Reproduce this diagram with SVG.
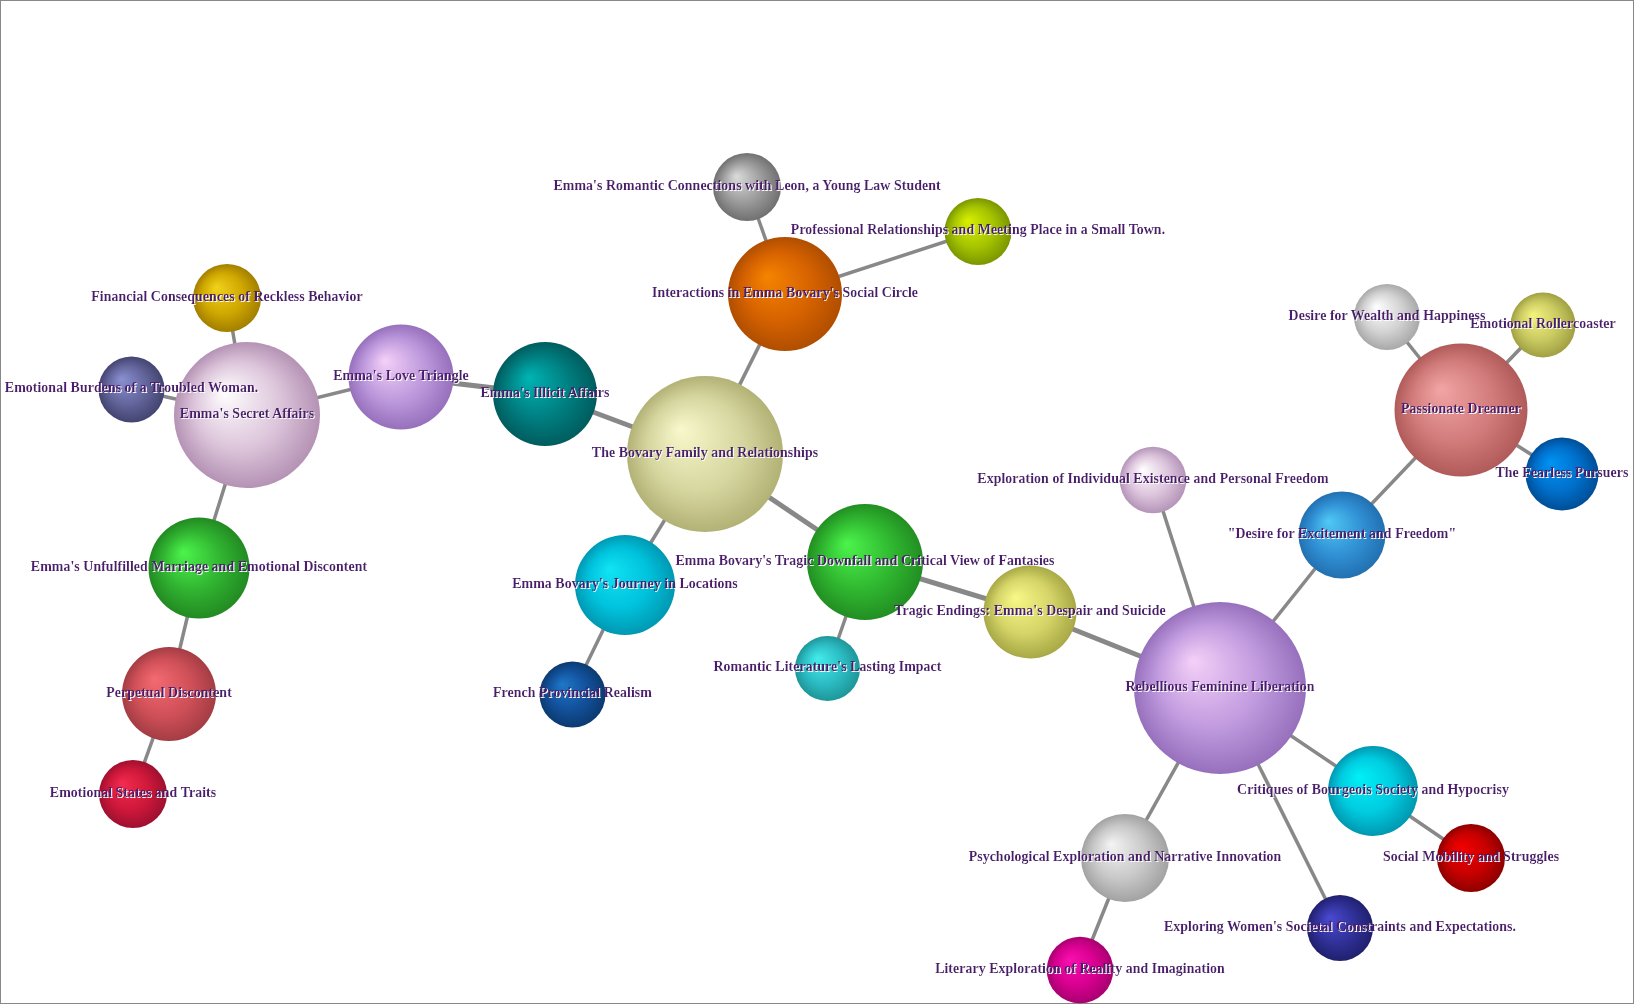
<svg xmlns="http://www.w3.org/2000/svg" width="1634" height="1004" viewBox="0 0 1634 1004">
<style>
.lbl{font-family:"Liberation Serif","Times New Roman",serif;font-size:14px;font-weight:bold;fill:#4b1a6d;text-anchor:middle;filter:url(#halo)}
.edge{stroke:#888;stroke-width:3.5;stroke-linecap:butt}
.thick{stroke-width:5}
</style>
<defs>
<filter id="halo" x="-5%" y="-30%" width="110%" height="160%">
<feFlood flood-color="#fff" result="w"/>
<feComposite in="w" in2="SourceAlpha" operator="in" result="wa"/>
<feOffset in="wa" dx="1" dy="1" result="off"/>
<feMerge><feMergeNode in="off"/><feMergeNode in="SourceGraphic"/></feMerge>
</filter>
<radialGradient id="g1" fx="34%" fy="34%"><stop offset="0" stop-color="#dcdcdc"/><stop offset="0.6" stop-color="#9a9a9a"/><stop offset="1" stop-color="#707070"/></radialGradient>
<radialGradient id="g2" fx="34%" fy="34%"><stop offset="0" stop-color="#d8f000"/><stop offset="0.6" stop-color="#a6c400"/><stop offset="1" stop-color="#7a9600"/></radialGradient>
<radialGradient id="g3" fx="34%" fy="34%"><stop offset="0" stop-color="#f58400"/><stop offset="0.6" stop-color="#d66200"/><stop offset="1" stop-color="#b04e00"/></radialGradient>
<radialGradient id="g4" fx="34%" fy="34%"><stop offset="0" stop-color="#f8f8cc"/><stop offset="0.6" stop-color="#d6d6a0"/><stop offset="1" stop-color="#b2b276"/></radialGradient>
<radialGradient id="g5" fx="34%" fy="34%"><stop offset="0" stop-color="#00b4b4"/><stop offset="0.6" stop-color="#007e80"/><stop offset="1" stop-color="#005c5e"/></radialGradient>
<radialGradient id="g6" fx="34%" fy="34%"><stop offset="0" stop-color="#f4d0f8"/><stop offset="0.6" stop-color="#bc98dc"/><stop offset="1" stop-color="#9670bc"/></radialGradient>
<radialGradient id="g7" fx="34%" fy="34%"><stop offset="0" stop-color="#ffffff"/><stop offset="0.6" stop-color="#dcc4da"/><stop offset="1" stop-color="#b492b4"/></radialGradient>
<radialGradient id="g8" fx="34%" fy="34%"><stop offset="0" stop-color="#f2d21c"/><stop offset="0.6" stop-color="#cfa800"/><stop offset="1" stop-color="#a27e00"/></radialGradient>
<radialGradient id="g9" fx="34%" fy="34%"><stop offset="0" stop-color="#8a90d2"/><stop offset="0.6" stop-color="#62649a"/><stop offset="1" stop-color="#434470"/></radialGradient>
<radialGradient id="g10" fx="34%" fy="34%"><stop offset="0" stop-color="#4cf44c"/><stop offset="0.6" stop-color="#30b230"/><stop offset="1" stop-color="#228a22"/></radialGradient>
<radialGradient id="g11" fx="34%" fy="34%"><stop offset="0" stop-color="#f46a72"/><stop offset="0.6" stop-color="#d05058"/><stop offset="1" stop-color="#a43c44"/></radialGradient>
<radialGradient id="g12" fx="34%" fy="34%"><stop offset="0" stop-color="#f22c50"/><stop offset="0.6" stop-color="#cf183a"/><stop offset="1" stop-color="#9e1030"/></radialGradient>
<radialGradient id="g13" fx="34%" fy="34%"><stop offset="0" stop-color="#10e4f4"/><stop offset="0.6" stop-color="#00c2dc"/><stop offset="1" stop-color="#0098b2"/></radialGradient>
<radialGradient id="g14" fx="34%" fy="34%"><stop offset="0" stop-color="#1e78c8"/><stop offset="0.6" stop-color="#12509a"/><stop offset="1" stop-color="#0c3a70"/></radialGradient>
<radialGradient id="g15" fx="34%" fy="34%"><stop offset="0" stop-color="#4cf44c"/><stop offset="0.6" stop-color="#30b830"/><stop offset="1" stop-color="#228e22"/></radialGradient>
<radialGradient id="g16" fx="34%" fy="34%"><stop offset="0" stop-color="#44ecec"/><stop offset="0.6" stop-color="#2cbcc4"/><stop offset="1" stop-color="#1e9698"/></radialGradient>
<radialGradient id="g17" fx="34%" fy="34%"><stop offset="0" stop-color="#f8f888"/><stop offset="0.6" stop-color="#d4d468"/><stop offset="1" stop-color="#a8a846"/></radialGradient>
<radialGradient id="g18" fx="34%" fy="34%"><stop offset="0" stop-color="#f4d0f8"/><stop offset="0.6" stop-color="#c09ade"/><stop offset="1" stop-color="#9670bc"/></radialGradient>
<radialGradient id="g19" fx="34%" fy="34%"><stop offset="0" stop-color="#ffffff"/><stop offset="0.6" stop-color="#dcc4dc"/><stop offset="1" stop-color="#b494b8"/></radialGradient>
<radialGradient id="g20" fx="34%" fy="34%"><stop offset="0" stop-color="#50c8f4"/><stop offset="0.6" stop-color="#3090d4"/><stop offset="1" stop-color="#2270b0"/></radialGradient>
<radialGradient id="g21" fx="34%" fy="34%"><stop offset="0" stop-color="#f2a4a4"/><stop offset="0.6" stop-color="#d27c7c"/><stop offset="1" stop-color="#b05a5a"/></radialGradient>
<radialGradient id="g22" fx="34%" fy="34%"><stop offset="0" stop-color="#ffffff"/><stop offset="0.6" stop-color="#d2d2d2"/><stop offset="1" stop-color="#a8a8a8"/></radialGradient>
<radialGradient id="g23" fx="34%" fy="34%"><stop offset="0" stop-color="#f4f47e"/><stop offset="0.6" stop-color="#caca62"/><stop offset="1" stop-color="#a0a042"/></radialGradient>
<radialGradient id="g24" fx="34%" fy="34%"><stop offset="0" stop-color="#0094f4"/><stop offset="0.6" stop-color="#0070cc"/><stop offset="1" stop-color="#004e96"/></radialGradient>
<radialGradient id="g25" fx="34%" fy="34%"><stop offset="0" stop-color="#00f0f8"/><stop offset="0.6" stop-color="#00cce0"/><stop offset="1" stop-color="#0098b0"/></radialGradient>
<radialGradient id="g26" fx="34%" fy="34%"><stop offset="0" stop-color="#f40000"/><stop offset="0.6" stop-color="#c80000"/><stop offset="1" stop-color="#8e0000"/></radialGradient>
<radialGradient id="g27" fx="34%" fy="34%"><stop offset="0" stop-color="#4a4ad2"/><stop offset="0.6" stop-color="#303098"/><stop offset="1" stop-color="#20206e"/></radialGradient>
<radialGradient id="g28" fx="34%" fy="34%"><stop offset="0" stop-color="#f4f4f4"/><stop offset="0.6" stop-color="#c8c8c8"/><stop offset="1" stop-color="#a2a2a2"/></radialGradient>
<radialGradient id="g29" fx="34%" fy="34%"><stop offset="0" stop-color="#fa10b0"/><stop offset="0.6" stop-color="#d80090"/><stop offset="1" stop-color="#a80070"/></radialGradient>
</defs>
<rect x="0.5" y="0.5" width="1633" height="1003" fill="#fff" stroke="#888" stroke-width="1"/>
<g id="connectors">
<line class="edge" x1="747" y1="187" x2="785" y2="294"/>
<line class="edge" x1="978" y1="231" x2="785" y2="294"/>
<line class="edge" x1="785" y1="294" x2="705" y2="454"/>
<line class="edge thick" x1="705" y1="454" x2="545" y2="394"/>
<line class="edge thick" x1="545" y1="394" x2="401" y2="377"/>
<line class="edge" x1="401" y1="377" x2="247" y2="415"/>
<line class="edge" x1="247" y1="415" x2="227" y2="298"/>
<line class="edge" x1="247" y1="415" x2="131" y2="389"/>
<line class="edge" x1="247" y1="415" x2="199" y2="568"/>
<line class="edge" x1="199" y1="568" x2="169" y2="694"/>
<line class="edge" x1="169" y1="694" x2="133" y2="794"/>
<line class="edge" x1="705" y1="454" x2="625" y2="585"/>
<line class="edge" x1="625" y1="585" x2="572" y2="694"/>
<line class="edge thick" x1="705" y1="454" x2="865" y2="562"/>
<line class="edge" x1="865" y1="562" x2="828" y2="668"/>
<line class="edge thick" x1="865" y1="562" x2="1030" y2="612"/>
<line class="edge thick" x1="1030" y1="612" x2="1220" y2="688"/>
<line class="edge" x1="1220" y1="688" x2="1153" y2="480"/>
<line class="edge" x1="1220" y1="688" x2="1342" y2="535"/>
<line class="edge" x1="1342" y1="535" x2="1461" y2="410"/>
<line class="edge" x1="1461" y1="410" x2="1387" y2="317"/>
<line class="edge" x1="1461" y1="410" x2="1543" y2="325"/>
<line class="edge" x1="1461" y1="410" x2="1562" y2="474"/>
<line class="edge" x1="1220" y1="688" x2="1373" y2="791"/>
<line class="edge" x1="1373" y1="791" x2="1471" y2="858"/>
<line class="edge" x1="1220" y1="688" x2="1340" y2="928"/>
<line class="edge" x1="1220" y1="688" x2="1125" y2="858"/>
<line class="edge" x1="1125" y1="858" x2="1080" y2="970"/>
</g>
<g id="n-bovary-family"><circle cx="705" cy="454" r="78" fill="url(#g4)"/><text class="lbl" x="705" y="457">The Bovary Family and Relationships</text></g>
<g id="n-rebellious"><circle cx="1220" cy="688" r="86" fill="url(#g18)"/><text class="lbl" x="1220" y="691">Rebellious Feminine Liberation</text></g>
<g id="n-secret-affairs"><circle cx="247" cy="415" r="73" fill="url(#g7)"/><text class="lbl" x="247" y="418">Emma's Secret Affairs</text></g>
<g id="n-passionate"><circle cx="1461" cy="410" r="66.5" fill="url(#g21)"/><text class="lbl" x="1461" y="413">Passionate Dreamer</text></g>
<g id="n-tragic-downfall"><circle cx="865" cy="562" r="58" fill="url(#g15)"/><text class="lbl" x="865" y="565">Emma Bovary's Tragic Downfall and Critical View of Fantasies</text></g>
<g id="n-interactions"><circle cx="785" cy="294" r="57" fill="url(#g3)"/><text class="lbl" x="785" y="297">Interactions in Emma Bovary's Social Circle</text></g>
<g id="n-love-triangle"><circle cx="401" cy="377" r="52.5" fill="url(#g6)"/><text class="lbl" x="401" y="380">Emma's Love Triangle</text></g>
<g id="n-illicit"><circle cx="545" cy="394" r="52" fill="url(#g5)"/><text class="lbl" x="545" y="397">Emma's Illicit Affairs</text></g>
<g id="n-unfulfilled"><circle cx="199" cy="568" r="50.5" fill="url(#g10)"/><text class="lbl" x="199" y="571">Emma's Unfulfilled Marriage and Emotional Discontent</text></g>
<g id="n-journey"><circle cx="625" cy="585" r="50" fill="url(#g13)"/><text class="lbl" x="625" y="588">Emma Bovary's Journey in Locations</text></g>
<g id="n-perpetual"><circle cx="169" cy="694" r="47" fill="url(#g11)"/><text class="lbl" x="169" y="697">Perpetual Discontent</text></g>
<g id="n-tragic-endings"><circle cx="1030" cy="612" r="46.5" fill="url(#g17)"/><text class="lbl" x="1030" y="615">Tragic Endings: Emma's Despair and Suicide</text></g>
<g id="n-critiques"><circle cx="1373" cy="791" r="45" fill="url(#g25)"/><text class="lbl" x="1373" y="794">Critiques of Bourgeois Society and Hypocrisy</text></g>
<g id="n-psychological"><circle cx="1125" cy="858" r="44" fill="url(#g28)"/><text class="lbl" x="1125" y="861">Psychological Exploration and Narrative Innovation</text></g>
<g id="n-desire-excitement"><circle cx="1342" cy="535" r="43.5" fill="url(#g20)"/><text class="lbl" x="1342" y="538">"Desire for Excitement and Freedom"</text></g>
<g id="n-fearless"><circle cx="1562" cy="474" r="36.5" fill="url(#g24)"/><text class="lbl" x="1562" y="477">The Fearless Pursuers</text></g>
<g id="n-romantic-connections"><circle cx="747" cy="187" r="34" fill="url(#g1)"/><text class="lbl" x="747" y="190">Emma's Romantic Connections with Leon, a Young Law Student</text></g>
<g id="n-financial"><circle cx="227" cy="298" r="34" fill="url(#g8)"/><text class="lbl" x="227" y="301">Financial Consequences of Reckless Behavior</text></g>
<g id="n-emotional-burdens"><circle cx="131.5" cy="389.5" r="33" fill="url(#g9)"/><text class="lbl" x="131.5" y="392">Emotional Burdens of a Troubled Woman.</text></g>
<g id="n-emotional-states"><circle cx="133" cy="794" r="34" fill="url(#g12)"/><text class="lbl" x="133" y="797">Emotional States and Traits</text></g>
<g id="n-social-mobility"><circle cx="1471" cy="858" r="34" fill="url(#g26)"/><text class="lbl" x="1471" y="861">Social Mobility and Struggles</text></g>
<g id="n-professional"><circle cx="978" cy="231.5" r="33.5" fill="url(#g2)"/><text class="lbl" x="978" y="234">Professional Relationships and Meeting Place in a Small Town.</text></g>
<g id="n-exploration-individual"><circle cx="1153" cy="480" r="33.3" fill="url(#g19)"/><text class="lbl" x="1153" y="483">Exploration of Individual Existence and Personal Freedom</text></g>
<g id="n-wealth"><circle cx="1387" cy="317" r="33" fill="url(#g22)"/><text class="lbl" x="1387" y="320">Desire for Wealth and Happiness</text></g>
<g id="n-rollercoaster"><circle cx="1543" cy="325" r="32.5" fill="url(#g23)"/><text class="lbl" x="1543" y="328">Emotional Rollercoaster</text></g>
<g id="n-french"><circle cx="572.5" cy="694.5" r="33" fill="url(#g14)"/><text class="lbl" x="572.5" y="697">French Provincial Realism</text></g>
<g id="n-romantic-lit"><circle cx="827.5" cy="668.5" r="32.5" fill="url(#g16)"/><text class="lbl" x="827.5" y="671">Romantic Literature's Lasting Impact</text></g>
<g id="n-exploring-women"><circle cx="1340" cy="928" r="33" fill="url(#g27)"/><text class="lbl" x="1340" y="931">Exploring Women's Societal Constraints and Expectations.</text></g>
<g id="n-literary"><circle cx="1080" cy="970" r="33.3" fill="url(#g29)"/><text class="lbl" x="1080" y="973">Literary Exploration of Reality and Imagination</text></g>
</svg>
